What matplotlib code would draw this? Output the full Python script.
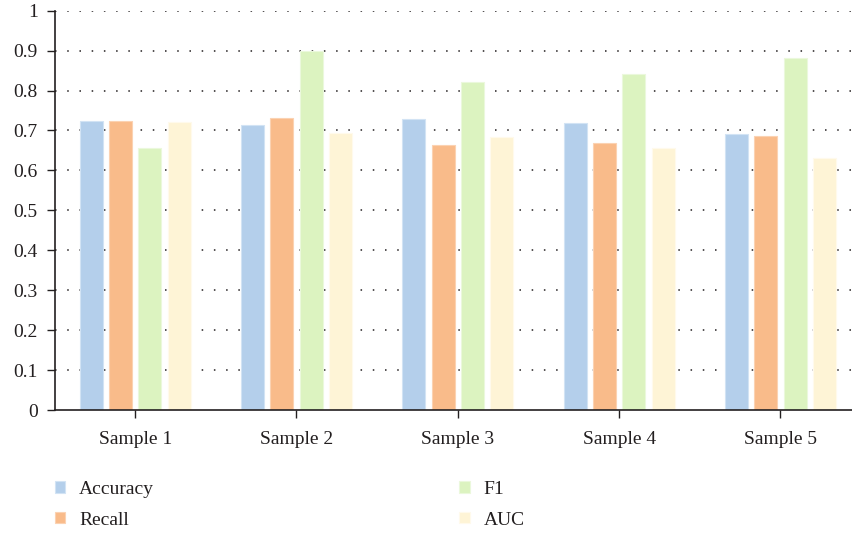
"""Grouped bar chart: metrics per sample."""
import matplotlib
matplotlib.use('Agg')
import matplotlib.pyplot as plt
import numpy as np

matplotlib.rcParams.update({
    'font.family': 'Liberation Serif',
    'font.size': 14,
    'text.color': '#231f20',
    'axes.labelcolor': '#231f20',
    'xtick.color': '#231f20',
    'ytick.color': '#231f20',
})

samples = ['Sample 1', 'Sample 2', 'Sample 3', 'Sample 4', 'Sample 5']
metrics = ['Accuracy', 'Recall', 'F1', 'AUC']
accuracy = [0.725, 0.713, 0.728, 0.718, 0.691]
recall = [0.725, 0.731, 0.663, 0.668, 0.687]
f1 = [0.656, 0.900, 0.822, 0.842, 0.882]
auc = [0.721, 0.693, 0.683, 0.657, 0.632]
yticks = [0, 0.1, 0.2, 0.3, 0.4, 0.5, 0.6, 0.7, 0.8, 0.9, 1]

series = [accuracy, recall, f1, auc]
colors = ['#b4cfeb', '#f9bb8a', '#dcf3c0', '#fef4d6']
edges = ['#d2e3f4', '#fbd2b2', '#ebf8dc', '#fffaec']

fig = plt.figure(figsize=(8.53, 5.35), dpi=100)
ax = fig.add_axes([0.0639, 0.2336, 0.9361, 0.7464])

x = np.arange(len(samples))
step = 0.182
width = 0.143
for i, (vals, name) in enumerate(zip(series, metrics)):
    ax.bar(x + (i - 1.5) * step, vals, width, color=colors[i],
           edgecolor=edges[i], linewidth=0.8, label=name, zorder=2)

# dotted grid
for y in yticks[1:]:
    ax.axhline(y, color='#231f20', linewidth=1.1, linestyle=(0, (1, 7)), zorder=1)

ax.set_xlim(-0.5, 4.45)
ax.set_ylim(0, 1)
ax.set_xticks(x)
ax.set_xticklabels(samples)
ax.set_yticks(yticks)
ax.set_yticklabels([f'{v:g}' for v in yticks])
ax.tick_params(axis='both', direction='out', length=6, width=1, pad=6)
ax.tick_params(axis='x', pad=9)

for side in ['top', 'right']:
    ax.spines[side].set_visible(False)
for side in ['left', 'bottom']:
    ax.spines[side].set_linewidth(1.2)
    ax.spines[side].set_color('#231f20')

ax.legend(loc='upper left', bbox_to_anchor=(55 / 853, 0.101),
          bbox_transform=fig.transFigure, ncol=2, frameon=False,
          borderpad=0, borderaxespad=0, handlelength=0.52, handleheight=0.52,
          handletextpad=0.72, columnspacing=15.7, labelspacing=0.7)

fig.savefig('out.png', dpi=100)
